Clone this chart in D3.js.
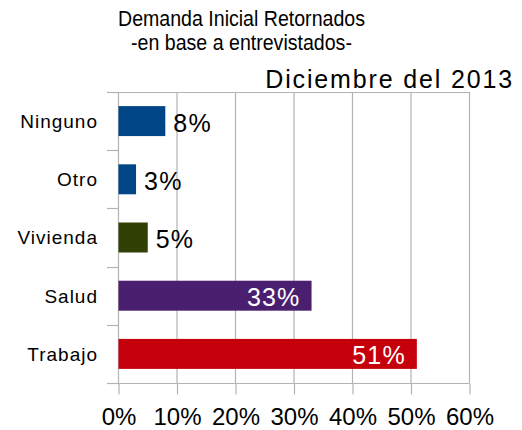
<!DOCTYPE html>
<html>
<head>
<meta charset="utf-8">
<script src="https://cdn.jsdelivr.net/npm/d3@7"></script>
<style>
  html, body { margin: 0; padding: 0; background: #fff; }
  svg { display: block; }
</style>
</head>
<body>
<script>
// Categories, top to bottom, with their shares and bar colours
const categories = ["Ninguno", "Otro", "Vivienda", "Salud", "Trabajo"];
const values = [0.08, 0.03, 0.05, 0.33, 0.51];
const colors = ["#004586", "#004586", "#314004", "#4b1f6f", "#c5000b"];
const tickValues = [0, 0.1, 0.2, 0.3, 0.4, 0.5, 0.6];
const tickLabels = ["0%", "10%", "20%", "30%", "40%", "50%", "60%"];
const valueLabels = ["8%", "3%", "5%", "33%", "51%"];
// Labels drawn inside the bar (white) instead of after it
const insideLabel = [false, false, false, true, true];

const W = 522, H = 430;
const svg = d3.select("body").append("svg").attr("width", W).attr("height", H);

const x = d3.scaleLinear().domain([0, 0.6]).range([118.5, 469.5]);
const y = d3.scaleBand().domain(categories).range([92, 383])
  .paddingInner(0.485).paddingOuter(0.2425);

const grid = "#b3b3b3";
const font = "'Liberation Sans', Arial, sans-serif";

// Vertical gridlines
svg.append("g").selectAll("line").data(tickValues).join("line")
  .attr("x1", d => x(d)).attr("x2", d => x(d))
  .attr("y1", 92).attr("y2", 383)
  .attr("stroke", grid).attr("stroke-width", 1.2);

// Top border of the plot area
svg.append("line")
  .attr("x1", 107).attr("x2", x(0.6)).attr("y1", 92.5).attr("y2", 92.5)
  .attr("stroke", grid).attr("stroke-width", 1.2);

// Category tick marks at band boundaries
const bounds = categories.map(c => y(c) - y.step() * y.paddingInner() / 2).concat([383]);
svg.append("g").selectAll("line").data(bounds).join("line")
  .attr("x1", 107).attr("x2", x(0))
  .attr("y1", d => Math.round(d) + 0.5).attr("y2", d => Math.round(d) + 0.5)
  .attr("stroke", grid).attr("stroke-width", 1.2);

// Bottom value axis
const xAxis = d3.axisBottom(x).tickValues(tickValues)
  .tickFormat((d, i) => tickLabels[i]).tickSize(11).tickPadding(13);
const gx = svg.append("g").attr("transform", "translate(0,383.5)").call(xAxis);
gx.select(".domain").attr("stroke", grid).attr("stroke-width", 1.2)
  .attr("d", `M107,0H${x(0.6)}`);
gx.selectAll(".tick line").attr("stroke", grid).attr("stroke-width", 1.2);
gx.selectAll(".tick text")
  .attr("fill", "#000")
  .style("font-family", font)
  .style("font-size", "24px");

// Category labels
svg.append("g").selectAll("text").data(categories).join("text")
  .attr("x", 98)
  .attr("y", d => y(d) + y.bandwidth() / 2)
  .attr("dy", "0.36em")
  .attr("text-anchor", "end")
  .style("font-family", font)
  .style("font-size", "19px")
  .style("letter-spacing", "1px")
  .attr("fill", "#000")
  .text(d => d);

// Bars
svg.append("g").selectAll("rect").data(categories).join("rect")
  .attr("x", x(0))
  .attr("y", d => y(d))
  .attr("width", (d, i) => x(values[i]) - x(0))
  .attr("height", y.bandwidth())
  .attr("fill", (d, i) => colors[i]);

// Value labels
svg.append("g").selectAll("text").data(categories).join("text")
  .attr("x", (d, i) => insideLabel[i] ? x(values[i]) - 11 : x(values[i]) + 8)
  .attr("y", d => y(d) + y.bandwidth() / 2)
  .attr("dy", "0.42em")
  .attr("text-anchor", (d, i) => insideLabel[i] ? "end" : "start")
  .attr("fill", (d, i) => insideLabel[i] ? "#fff" : "#000")
  .style("font-family", font)
  .style("font-size", "25px")
  .style("letter-spacing", "1.2px")
  .text((d, i) => valueLabels[i]);

// Title, set in a horizontally condensed face
const title = svg.append("g")
  .attr("transform", "translate(241.5,0) scale(0.89,1)")
  .append("text")
  .attr("text-anchor", "middle")
  .style("font-family", font)
  .style("font-size", "22px")
  .attr("fill", "#000");
title.append("tspan").attr("x", 0).attr("y", 26).text("Demanda Inicial Retornados");
title.append("tspan").attr("x", 0).attr("y", 50).text("-en base a entrevistados-");

svg.append("text")
  .attr("x", 514).attr("y", 88)
  .attr("text-anchor", "end")
  .style("font-family", font)
  .style("font-size", "25px")
  .style("letter-spacing", "1.85px")
  .attr("fill", "#000")
  .text("Diciembre del 2013");
</script>
</body>
</html>
